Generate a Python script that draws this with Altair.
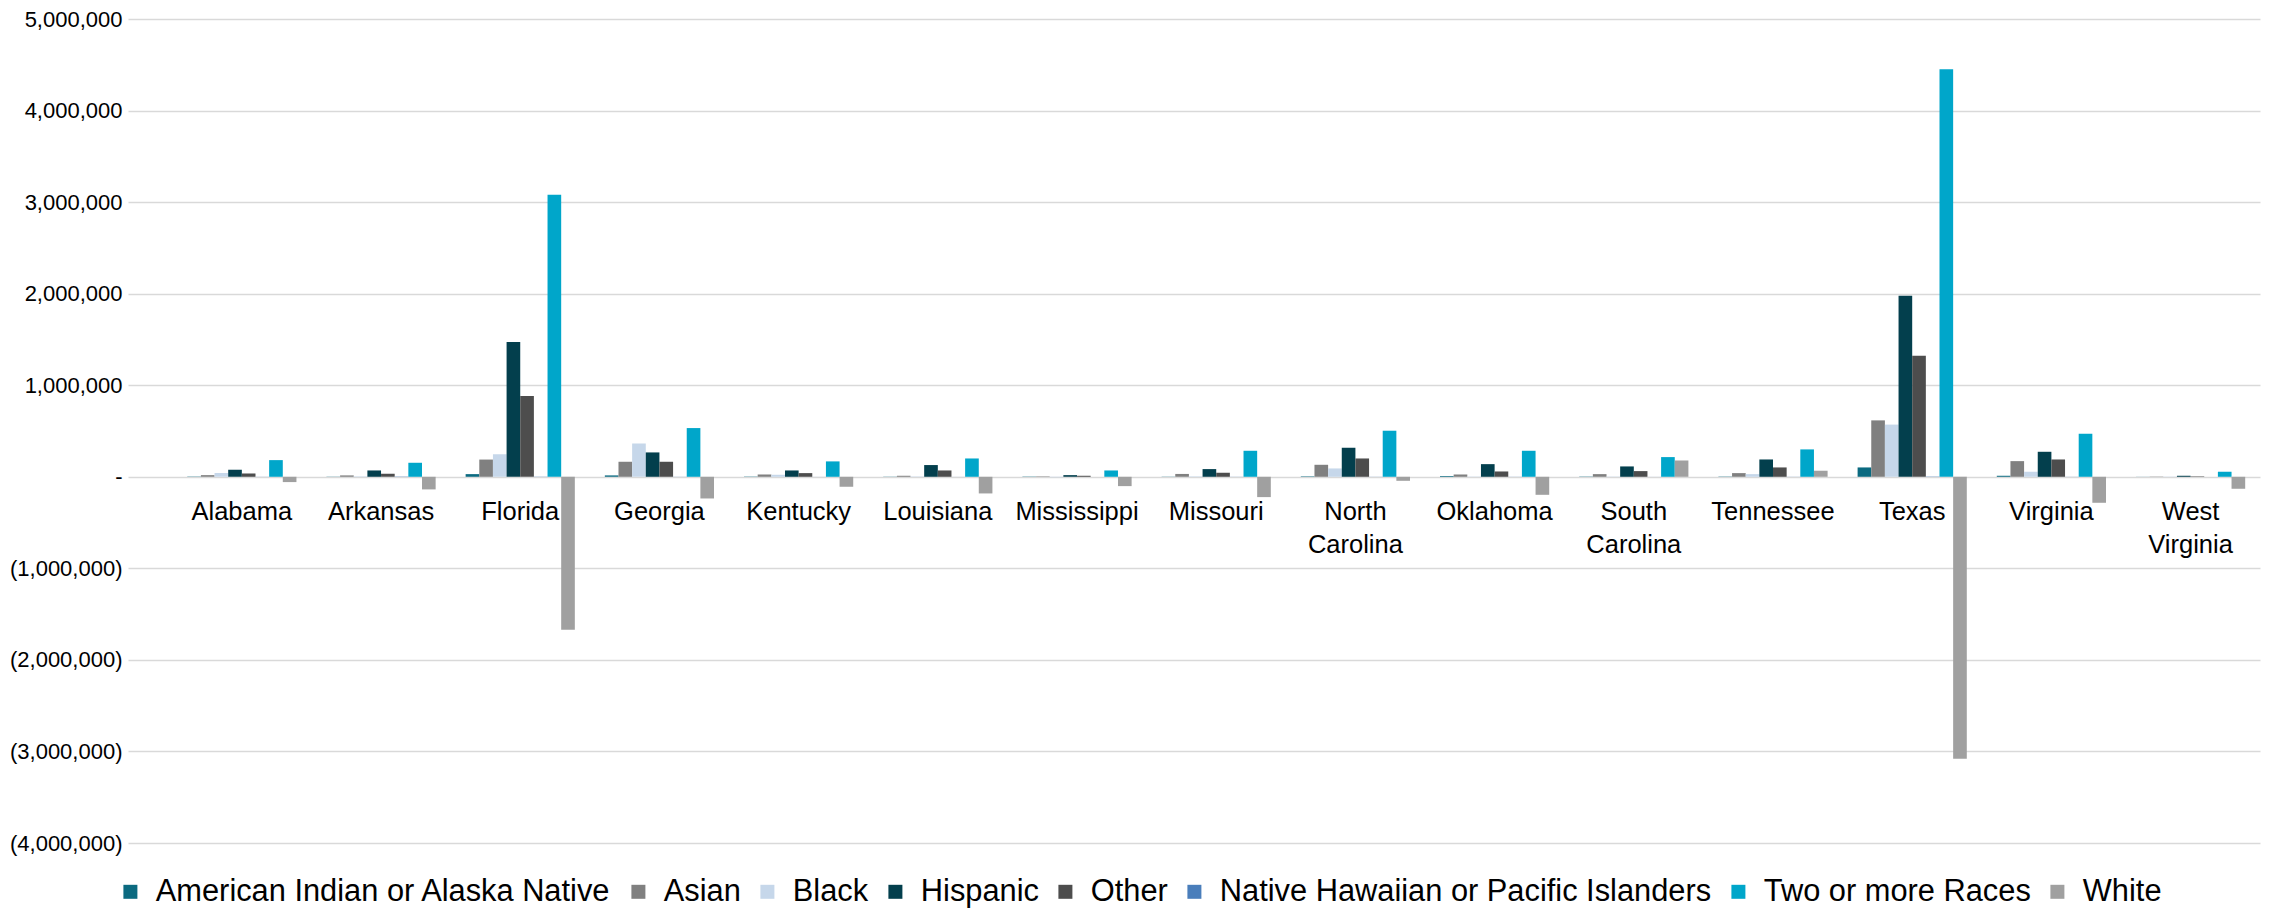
import altair as alt
import pandas as pd

FONT = "Liberation Sans"

states = ["Alabama", "Arkansas", "Florida", "Georgia", "Kentucky", "Louisiana",
          "Mississippi", "Missouri", "North Carolina", "Oklahoma", "South Carolina",
          "Tennessee", "Texas", "Virginia", "West Virginia"]
state_labels = ["Alabama", "Arkansas", "Florida", "Georgia", "Kentucky", "Louisiana",
                "Mississippi", "Missouri", "North\nCarolina", "Oklahoma", "South\nCarolina",
                "Tennessee", "Texas", "Virginia", "West\nVirginia"]

series = ["American Indian or Alaska Native", "Asian", "Black", "Hispanic", "Other",
          "Native Hawaiian or Pacific Islanders", "Two or more Races", "White"]
colors = ["#0b6a80", "#808080", "#c6d7ea", "#033f4d", "#4d4d4d",
          "#4a7ebb", "#00a6ca", "#a0a0a0"]

american_indian = [3000, 2000, 29000, 15000, 3000, 2000, 3000, 2000, 5000, 8000, 3000, 3000, 102000, 11000, 1000]
asian = [18000, 15000, 188000, 164000, 25000, 11000, 5000, 31000, 131000, 25000, 29000, 40000, 616000, 171000, 3000]
black = [40000, 5000, 246000, 364000, 22000, 4000, -5000, 5000, 91000, 3000, 3000, 29000, 570000, 55000, 2000]
hispanic = [77000, 69000, 1472000, 266000, 69000, 128000, 18000, 84000, 317000, 138000, 113000, 189000, 1978000, 273000, 11000]
other = [36000, 33000, 882000, 164000, 40000, 69000, 11000, 44000, 200000, 58000, 62000, 102000, 1322000, 189000, 5000]
pacific_islander = [1000, 3000, 2000, 1000, 500, 500, 200, 1000, 1000, 1000, 500, 1000, 3000, 1000, 100]
two_or_more = [182000, 153000, 3080000, 532000, 168000, 200000, 69000, 284000, 503000, 284000, 215000, 299000, 4452000, 470000, 55000]
white = [-58000, -138000, -1670000, -237000, -109000, -182000, -102000, -222000, -44000, -197000, 178000, 66000, -3080000, -284000, -131000]

y_ticks = [-4000000, -3000000, -2000000, -1000000, 0, 1000000, 2000000, 3000000, 4000000, 5000000]

values_by_series = [american_indian, asian, black, hispanic, other, pacific_islander, two_or_more, white]
rows = []
for s, vals in zip(series, values_by_series):
    for st, v in zip(states, vals):
        rows.append({"state": st, "series": s, "value": v})
df = pd.DataFrame(rows)
lab_df = pd.DataFrame({"state": states, "label": state_labels})

x_scale = alt.Scale(domain=states, paddingInner=0.2155, paddingOuter=0.266, align=0.8)

label_expr = ("datum.value == 0 ? '-' : (datum.value < 0 ? '(' + format(-datum.value, ',') + ')' "
              ": format(datum.value, ','))")

bars = alt.Chart(df).mark_bar().encode(
    x=alt.X("state:N", sort=states, scale=x_scale, axis=None),
    xOffset=alt.XOffset("series:N", sort=series,
                        scale=alt.Scale(domain=series, paddingInner=0, paddingOuter=0)),
    y=alt.Y("value:Q",
            scale=alt.Scale(domain=[-4000000, 5000000], nice=False, zero=False),
            axis=alt.Axis(values=y_ticks, labelExpr=label_expr, title=None, grid=True,
                          domain=False, ticks=False, labelFont=FONT, labelFontSize=22,
                          labelColor="#000000", labelPadding=6,
                          gridColor="#d9d9d9", gridWidth=1.5)),
    color=alt.Color("series:N", sort=series,
                    scale=alt.Scale(domain=series, range=colors),
                    legend=alt.Legend(orient="none", legendX=-13, legendY=857,
                                      direction="horizontal", columns=8, title=None,
                                      symbolType="square", symbolSize=196,
                                      symbolStrokeWidth=0, labelFont=FONT,
                                      labelFontSize=30.8, labelColor="#000000",
                                      labelOffset=10, columnPadding=11, padding=0,
                                      labelLimit=0)),
)

labels = alt.Chart(lab_df).mark_text(
    baseline="top", dy=23, fontSize=25.5, font=FONT, lineBreak="\n",
    lineHeight=33, color="#000000"
).encode(
    x=alt.X("state:N", sort=states, scale=x_scale, axis=None),
    y=alt.datum(0),
    text="label:N",
)

chart = alt.layer(bars, labels).properties(
    width=2132, height=824,
    padding={"left": 120, "top": 11, "right": 11, "bottom": 66},
    autosize=alt.AutoSizeParams(type="none"),
).configure_view(stroke=None)

chart.save("out.html", embed_options={"renderer": "svg", "actions": False})
